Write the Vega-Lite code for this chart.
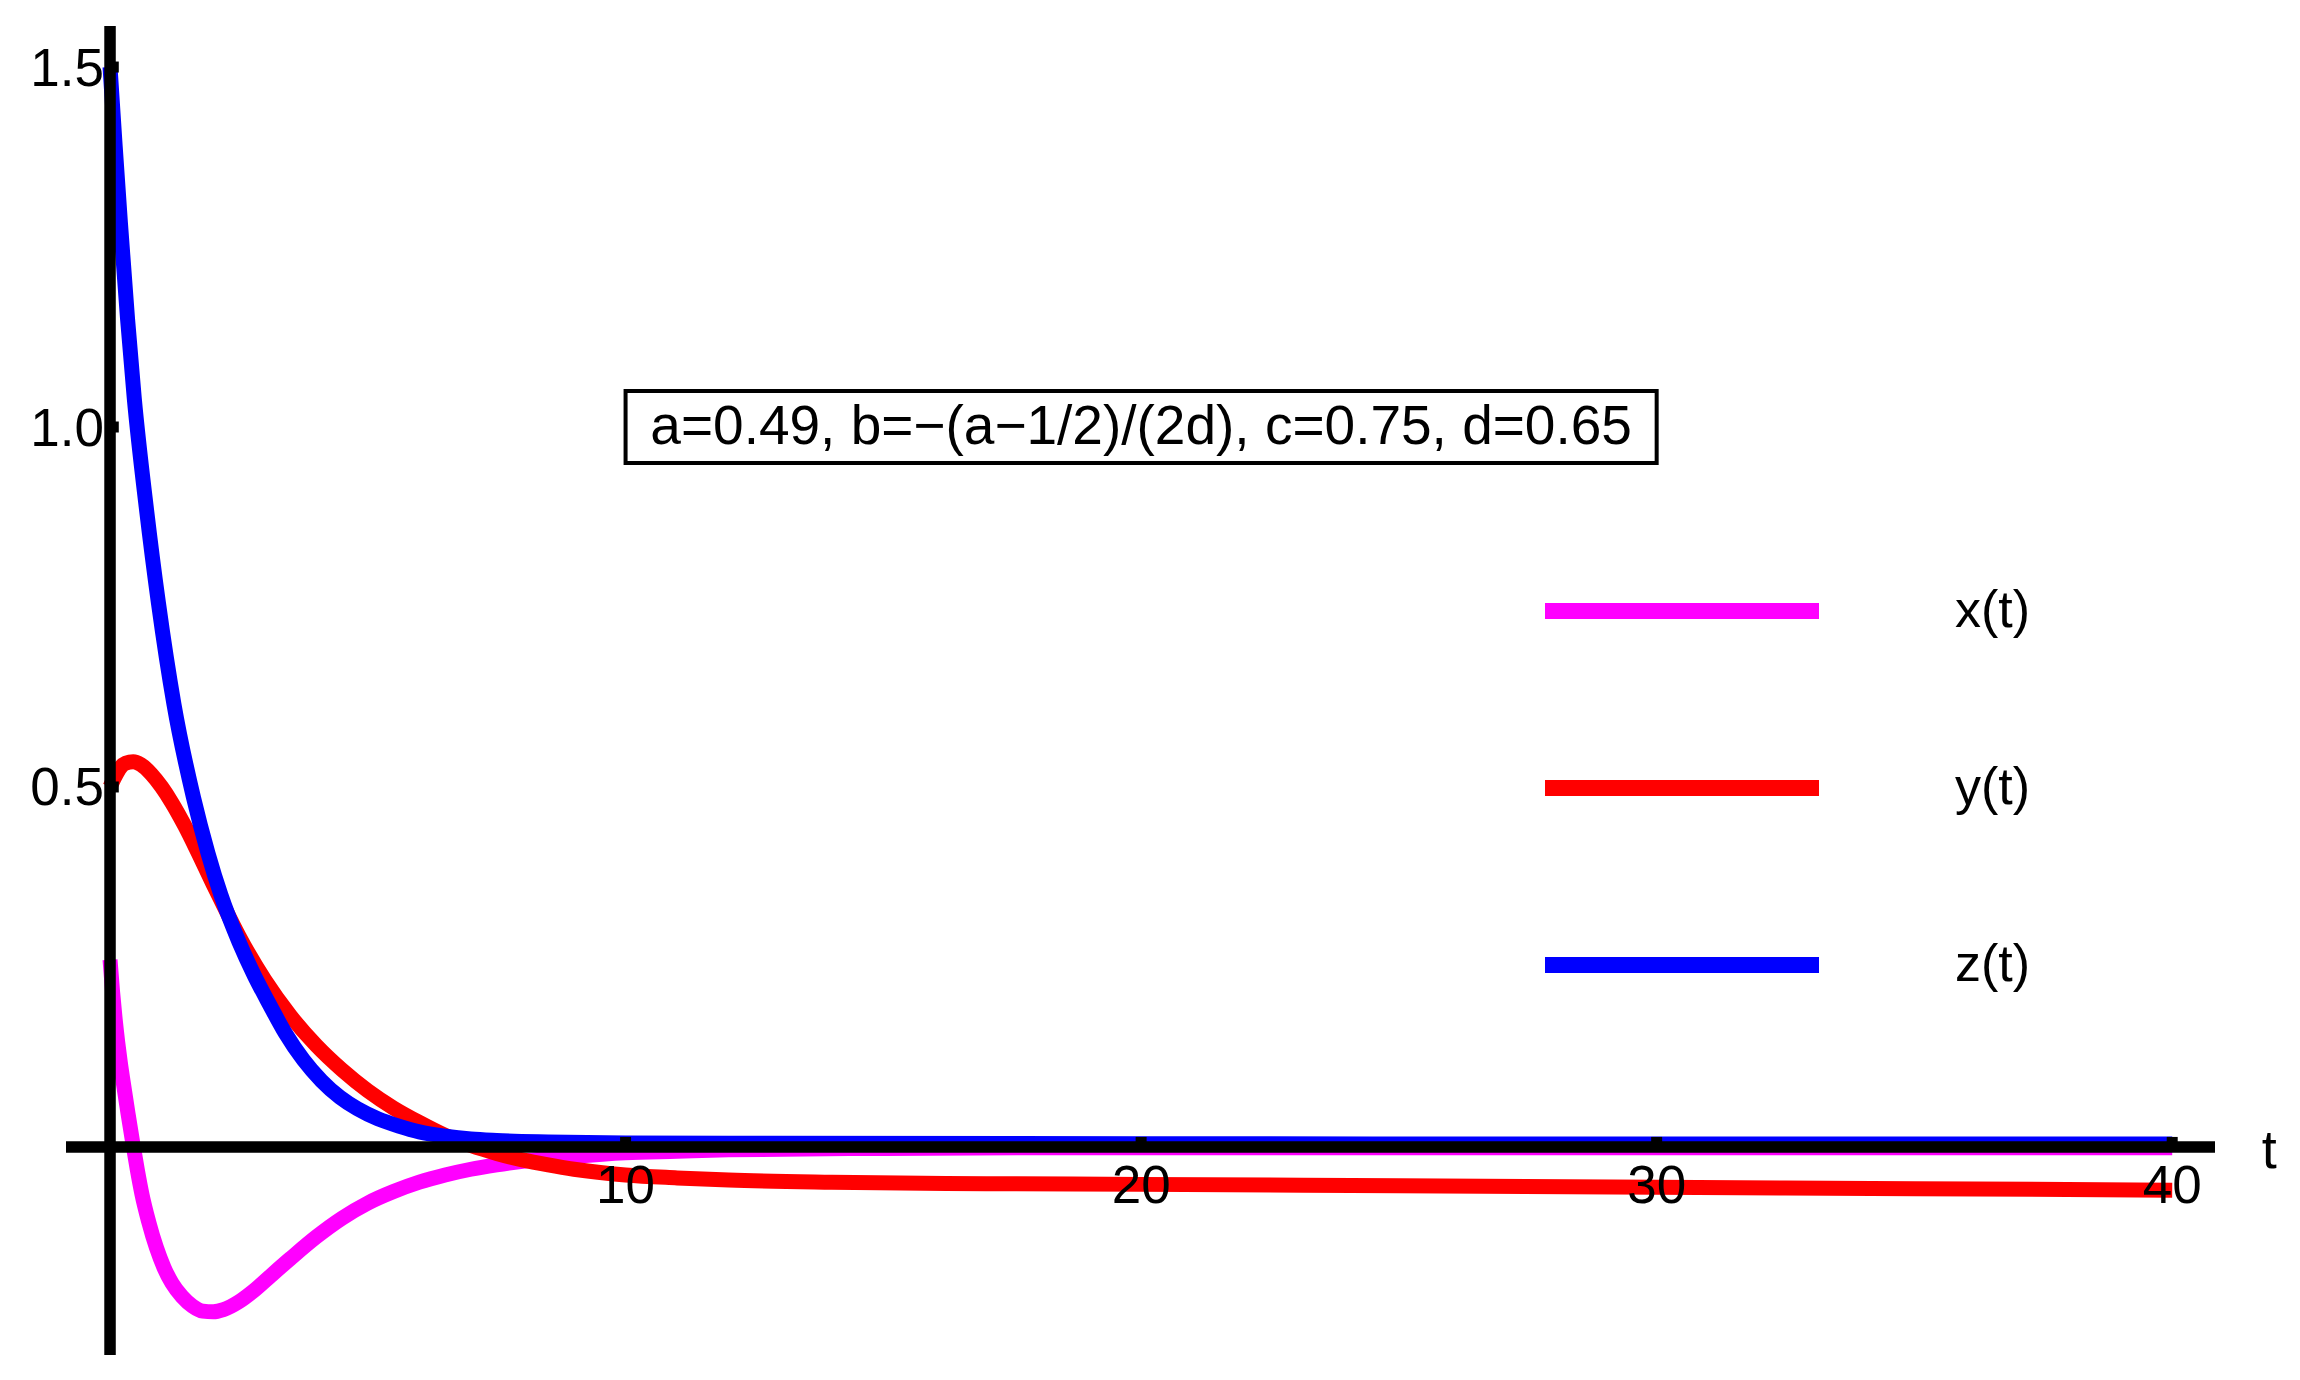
{
  "$schema": "https://vega.github.io/schema/vega-lite/v6.json",
  "width": 2149,
  "height": 1329,
  "autosize": "none",
  "padding": {"left": 66, "top": 26, "right": 85, "bottom": 25},
  "background": "white",
  "config": {"view": {"stroke": null}, "axis": {"disable": true}},
  "datasets": {
    "curves": [
      {"t": 0, "value": 0.26, "series": "x(t)"},
      {"t": 0.05, "value": 0.215, "series": "x(t)"},
      {"t": 0.1, "value": 0.177, "series": "x(t)"},
      {"t": 0.15, "value": 0.145, "series": "x(t)"},
      {"t": 0.2, "value": 0.117, "series": "x(t)"},
      {"t": 0.26, "value": 0.088, "series": "x(t)"},
      {"t": 0.35, "value": 0.046, "series": "x(t)"},
      {"t": 0.44, "value": 0.006, "series": "x(t)"},
      {"t": 0.53, "value": -0.032, "series": "x(t)"},
      {"t": 0.62, "value": -0.066, "series": "x(t)"},
      {"t": 0.75, "value": -0.104, "series": "x(t)"},
      {"t": 0.9, "value": -0.14, "series": "x(t)"},
      {"t": 1.05, "value": -0.168, "series": "x(t)"},
      {"t": 1.2, "value": -0.189, "series": "x(t)"},
      {"t": 1.4, "value": -0.208, "series": "x(t)"},
      {"t": 1.6, "value": -0.221, "series": "x(t)"},
      {"t": 1.8, "value": -0.228, "series": "x(t)"},
      {"t": 2.0, "value": -0.229, "series": "x(t)"},
      {"t": 2.2, "value": -0.226, "series": "x(t)"},
      {"t": 2.5, "value": -0.215, "series": "x(t)"},
      {"t": 2.8, "value": -0.199, "series": "x(t)"},
      {"t": 3.1, "value": -0.18, "series": "x(t)"},
      {"t": 3.5, "value": -0.155, "series": "x(t)"},
      {"t": 4.0, "value": -0.125, "series": "x(t)"},
      {"t": 4.5, "value": -0.099, "series": "x(t)"},
      {"t": 5.0, "value": -0.078, "series": "x(t)"},
      {"t": 5.5, "value": -0.062, "series": "x(t)"},
      {"t": 6.0, "value": -0.049, "series": "x(t)"},
      {"t": 6.5, "value": -0.039, "series": "x(t)"},
      {"t": 7.0, "value": -0.031, "series": "x(t)"},
      {"t": 7.5, "value": -0.025, "series": "x(t)"},
      {"t": 8.0, "value": -0.02, "series": "x(t)"},
      {"t": 9.0, "value": -0.013, "series": "x(t)"},
      {"t": 10, "value": -0.008, "series": "x(t)"},
      {"t": 11, "value": -0.006, "series": "x(t)"},
      {"t": 12, "value": -0.004, "series": "x(t)"},
      {"t": 15, "value": -0.002, "series": "x(t)"},
      {"t": 20, "value": -0.001, "series": "x(t)"},
      {"t": 30, "value": -0.001, "series": "x(t)"},
      {"t": 40, "value": -0.001, "series": "x(t)"},
      {"t": 0, "value": 0.5, "series": "y(t)"},
      {"t": 0.1, "value": 0.515, "series": "y(t)"},
      {"t": 0.2, "value": 0.527, "series": "y(t)"},
      {"t": 0.3, "value": 0.533, "series": "y(t)"},
      {"t": 0.45, "value": 0.535, "series": "y(t)"},
      {"t": 0.6, "value": 0.531, "series": "y(t)"},
      {"t": 0.8, "value": 0.518, "series": "y(t)"},
      {"t": 1.0, "value": 0.5, "series": "y(t)"},
      {"t": 1.2, "value": 0.478, "series": "y(t)"},
      {"t": 1.45, "value": 0.446, "series": "y(t)"},
      {"t": 1.7, "value": 0.41, "series": "y(t)"},
      {"t": 2.0, "value": 0.365, "series": "y(t)"},
      {"t": 2.15, "value": 0.343, "series": "y(t)"},
      {"t": 2.5, "value": 0.293, "series": "y(t)"},
      {"t": 3.0, "value": 0.232, "series": "y(t)"},
      {"t": 3.5, "value": 0.182, "series": "y(t)"},
      {"t": 4.0, "value": 0.141, "series": "y(t)"},
      {"t": 4.5, "value": 0.107, "series": "y(t)"},
      {"t": 5.0, "value": 0.078, "series": "y(t)"},
      {"t": 5.5, "value": 0.054, "series": "y(t)"},
      {"t": 6.0, "value": 0.034, "series": "y(t)"},
      {"t": 6.5, "value": 0.016, "series": "y(t)"},
      {"t": 7.0, "value": 0.002, "series": "y(t)"},
      {"t": 7.5, "value": -0.009, "series": "y(t)"},
      {"t": 8.0, "value": -0.018, "series": "y(t)"},
      {"t": 8.5, "value": -0.025, "series": "y(t)"},
      {"t": 9.0, "value": -0.031, "series": "y(t)"},
      {"t": 10, "value": -0.039, "series": "y(t)"},
      {"t": 11, "value": -0.043, "series": "y(t)"},
      {"t": 12, "value": -0.046, "series": "y(t)"},
      {"t": 14, "value": -0.049, "series": "y(t)"},
      {"t": 17, "value": -0.051, "series": "y(t)"},
      {"t": 20, "value": -0.052, "series": "y(t)"},
      {"t": 25, "value": -0.054, "series": "y(t)"},
      {"t": 30, "value": -0.056, "series": "y(t)"},
      {"t": 35, "value": -0.058, "series": "y(t)"},
      {"t": 40, "value": -0.06, "series": "y(t)"},
      {"t": 0, "value": 1.5, "series": "z(t)"},
      {"t": 0.1, "value": 1.39, "series": "z(t)"},
      {"t": 0.2, "value": 1.285, "series": "z(t)"},
      {"t": 0.34, "value": 1.15, "series": "z(t)"},
      {"t": 0.47, "value": 1.04, "series": "z(t)"},
      {"t": 0.7, "value": 0.89, "series": "z(t)"},
      {"t": 0.94, "value": 0.755, "series": "z(t)"},
      {"t": 1.24, "value": 0.615, "series": "z(t)"},
      {"t": 1.62, "value": 0.485, "series": "z(t)"},
      {"t": 1.9, "value": 0.408, "series": "z(t)"},
      {"t": 2.15, "value": 0.35, "series": "z(t)"},
      {"t": 2.5, "value": 0.285, "series": "z(t)"},
      {"t": 2.8, "value": 0.238, "series": "z(t)"},
      {"t": 3.1, "value": 0.197, "series": "z(t)"},
      {"t": 3.4, "value": 0.158, "series": "z(t)"},
      {"t": 3.75, "value": 0.121, "series": "z(t)"},
      {"t": 4.1, "value": 0.092, "series": "z(t)"},
      {"t": 4.46, "value": 0.069, "series": "z(t)"},
      {"t": 4.8, "value": 0.053, "series": "z(t)"},
      {"t": 5.2, "value": 0.039, "series": "z(t)"},
      {"t": 5.6, "value": 0.029, "series": "z(t)"},
      {"t": 6.0, "value": 0.021, "series": "z(t)"},
      {"t": 6.5, "value": 0.015, "series": "z(t)"},
      {"t": 7.0, "value": 0.011, "series": "z(t)"},
      {"t": 7.5, "value": 0.009, "series": "z(t)"},
      {"t": 8.5, "value": 0.007, "series": "z(t)"},
      {"t": 10, "value": 0.0055, "series": "z(t)"},
      {"t": 12, "value": 0.005, "series": "z(t)"},
      {"t": 20, "value": 0.0045, "series": "z(t)"},
      {"t": 30, "value": 0.004, "series": "z(t)"},
      {"t": 40, "value": 0.004, "series": "z(t)"}
    ],
    "yticks": [{"v": 0.5, "label": "0.5"}, {"v": 1.0, "label": "1.0"}, {"v": 1.5, "label": "1.5"}],
    "xticks": [{"t": 10, "label": "10"}, {"t": 20, "label": "20"}, {"t": 30, "label": "30"}, {"t": 40, "label": "40"}],
    "note": [{"label": "a=0.49, b=\u2212(a\u22121/2)/(2d), c=0.75, d=0.65"}],
    "axisname": [{"label": "t"}]
  },
  "layer": [
    {
      "data": {"name": "curves"},
      "mark": {"type": "line", "strokeWidth": 15, "strokeCap": "butt", "interpolate": "monotone", "clip": true},
      "encoding": {
        "x": {"field": "t", "type": "quantitative", "scale": {"domain": [-0.854, 40.83], "nice": false, "zero": false}},
        "y": {"field": "value", "type": "quantitative", "scale": {"domain": [-0.289, 1.557], "nice": false, "zero": false}},
        "color": {
          "field": "series", "type": "nominal",
          "scale": {"domain": ["x(t)", "y(t)", "z(t)"], "range": ["#ff00ff", "#ff0000", "#0000ff"]},
          "legend": {
            "orient": "none", "legendX": 1471, "legendY": 440, "title": null, "padding": 0,
            "symbolType": "stroke", "symbolSize": 75076, "symbolStrokeWidth": 16,
            "labelFont": "Liberation Sans", "labelFontSize": 52, "labelColor": "black",
            "labelOffset": 128, "rowPadding": 0, "symbolOpacity": 1
          }
        },
        "order": {"field": "t", "type": "quantitative"}
      }
    },
    {
      "data": {"values": [{}]},
      "mark": {"type": "rule", "color": "black", "strokeWidth": 11.5, "strokeCap": "butt"},
      "encoding": {
        "x": {"datum": -0.854, "type": "quantitative", "scale": {"domain": [-0.854, 40.83], "nice": false, "zero": false}},
        "x2": {"datum": 40.83},
        "y": {"datum": 0, "type": "quantitative", "scale": {"domain": [-0.289, 1.557], "nice": false, "zero": false}}
      }
    },
    {
      "data": {"values": [{}]},
      "mark": {"type": "rule", "color": "black", "strokeWidth": 11.5, "strokeCap": "butt"},
      "encoding": {
        "x": {"datum": 0, "type": "quantitative", "scale": {"domain": [-0.854, 40.83], "nice": false, "zero": false}},
        "y": {"datum": -0.289, "type": "quantitative", "scale": {"domain": [-0.289, 1.557], "nice": false, "zero": false}},
        "y2": {"datum": 1.557}
      }
    },
    {
      "data": {"name": "yticks"},
      "mark": {"type": "rule", "color": "black", "strokeWidth": 11, "strokeCap": "butt"},
      "encoding": {
        "x": {"datum": 0, "type": "quantitative", "scale": {"domain": [-0.854, 40.83], "nice": false, "zero": false}},
        "x2": {"datum": 0.17},
        "y": {"field": "v", "type": "quantitative", "scale": {"domain": [-0.289, 1.557], "nice": false, "zero": false}}
      }
    },
    {
      "data": {"name": "yticks"},
      "mark": {"type": "text", "font": "Liberation Sans", "fontSize": 53, "align": "right", "baseline": "alphabetic", "dx": -6, "dy": 18.5, "color": "black"},
      "encoding": {
        "x": {"datum": 0, "type": "quantitative", "scale": {"domain": [-0.854, 40.83], "nice": false, "zero": false}},
        "y": {"field": "v", "type": "quantitative", "scale": {"domain": [-0.289, 1.557], "nice": false, "zero": false}},
        "text": {"field": "label"}
      }
    },
    {
      "data": {"name": "xticks"},
      "mark": {"type": "rule", "color": "black", "strokeWidth": 11, "strokeCap": "butt"},
      "encoding": {
        "x": {"field": "t", "type": "quantitative", "scale": {"domain": [-0.854, 40.83], "nice": false, "zero": false}},
        "y": {"datum": 0, "type": "quantitative", "scale": {"domain": [-0.289, 1.557], "nice": false, "zero": false}},
        "y2": {"datum": 0.0139}
      }
    },
    {
      "data": {"name": "xticks"},
      "mark": {"type": "text", "font": "Liberation Sans", "fontSize": 53, "align": "center", "baseline": "alphabetic", "dy": 56, "color": "black"},
      "encoding": {
        "x": {"field": "t", "type": "quantitative", "scale": {"domain": [-0.854, 40.83], "nice": false, "zero": false}},
        "y": {"datum": 0, "type": "quantitative", "scale": {"domain": [-0.289, 1.557], "nice": false, "zero": false}},
        "text": {"field": "label"}
      }
    },
    {
      "data": {"name": "axisname"},
      "mark": {"type": "text", "font": "Liberation Sans", "fontSize": 54, "align": "center", "baseline": "alphabetic", "dy": 21, "color": "black", "clip": false},
      "encoding": {
        "x": {"datum": 41.88, "type": "quantitative", "scale": {"domain": [-0.854, 40.83], "nice": false, "zero": false}},
        "y": {"datum": 0, "type": "quantitative", "scale": {"domain": [-0.289, 1.557], "nice": false, "zero": false}},
        "text": {"field": "label"}
      }
    },
    {
      "data": {"name": "note"},
      "mark": {"type": "rect", "fill": "white", "stroke": "black", "strokeWidth": 4},
      "encoding": {
        "x": {"datum": 10, "type": "quantitative", "scale": {"domain": [-0.854, 40.83], "nice": false, "zero": false}},
        "x2": {"datum": 30},
        "y": {"datum": 0.95, "type": "quantitative", "scale": {"domain": [-0.289, 1.557], "nice": false, "zero": false}},
        "y2": {"datum": 1.05}
      }
    },
    {
      "data": {"name": "note"},
      "mark": {"type": "text", "font": "Liberation Sans", "fontSize": 55, "align": "center", "baseline": "middle", "color": "black"},
      "encoding": {
        "x": {"datum": 20, "type": "quantitative", "scale": {"domain": [-0.854, 40.83], "nice": false, "zero": false}},
        "y": {"datum": 1.0, "type": "quantitative", "scale": {"domain": [-0.289, 1.557], "nice": false, "zero": false}},
        "text": {"field": "label"}
      }
    }
  ]
}
